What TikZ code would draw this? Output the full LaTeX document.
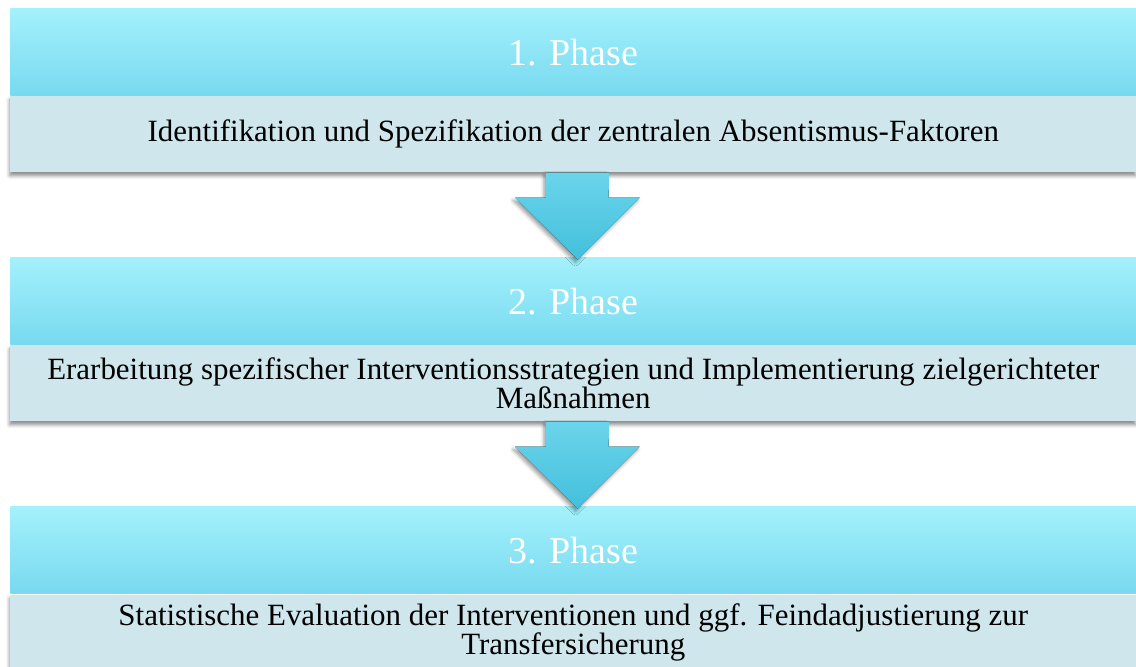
\documentclass[tikz,border=0pt]{standalone}
\usepackage{fontspec}
\setmainfont{Liberation Serif}
\usetikzlibrary{positioning,calc,shadows.blur}

\definecolor{headtop}{HTML}{A3F1FC}
\definecolor{headbot}{HTML}{78D9EF}
\definecolor{bodyfill}{HTML}{CFE6ED}
\definecolor{arrtop}{HTML}{6BD4EB}
\definecolor{arrbot}{HTML}{43C0DC}

\tikzset{
    phasehead/.style={rectangle, inner sep=0pt, minimum width=28.15cm, minimum height=2.175cm,
        top color=headtop, bottom color=headbot, text=white, font=\fontsize{27}{30}\selectfont},
    phasebody/.style={rectangle, inner sep=0pt, minimum width=28.15cm, minimum height=1.9cm,
        fill=bodyfill, align=center, font=\fontsize{22}{22}\selectfont,
        blur shadow={shadow xshift=-0.4pt, shadow yshift=-2.5pt, shadow blur radius=2.5pt, shadow opacity=45}},
    blockarrow/.style={top color=arrtop, bottom color=arrbot,
        blur shadow={shadow xshift=-1.5pt, shadow yshift=-2pt, shadow blur radius=2.5pt, shadow opacity=40}}
}

\begin{document}
\begin{tikzpicture}
        \useasboundingbox (0,0) rectangle (28.4,-16.65);

        % Phase 1
        \node[phasebody, anchor=north west] (body1) at (0.25,-2.4) {Identifikation und Spezifikation der zentralen Absentismus-Faktoren};
        \node[phasehead, above=0pt of body1] (head1) {1. Phase};

        % Phase 2
        \node[phasehead, below=2.125cm of body1] (head2) {2. Phase};
        \node[phasebody, below=0pt of head2] (body2) {Erarbeitung spezifischer Interventionsstrategien und Implementierung zielgerichteter\\[-1pt] Maßnahmen};

        % Phase 3
        \node[phasehead, below=2.125cm of body2] (head3) {3. Phase};
        \node[phasebody, below=0pt of head3] (body3) {Statistische Evaluation der Interventionen und ggf. Feindadjustierung zur\\[-1pt] Transfersicherung};

        % Arrows
        \foreach \i/\j in {1/2,2/3}
        \fill[blockarrow] ($(body\i.south)+(-0.68,0)$) -- ++(0,-0.625) -- ++(-0.775,0)
            -- ($(head\j.north)+(0.11,-0.05)$) -- ($(body\i.south)+(1.66,-0.625)$)
            -- ++(-0.775,0) -- ($(body\i.south)+(0.89,0)$) -- cycle;

\end{tikzpicture}
\end{document}
